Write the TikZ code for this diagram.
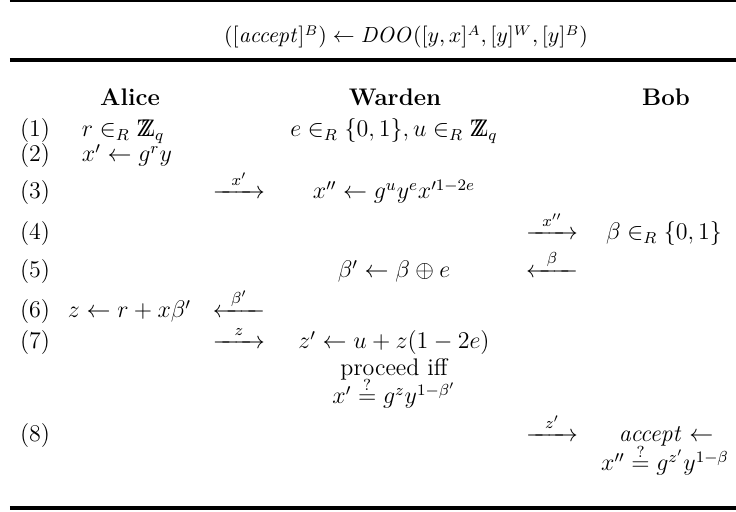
\documentclass[tikz,border=0pt]{standalone}
\usepackage{amsmath,amssymb}
\newcommand{\rarrow}[1]{\mathrel{\overset{#1}{\hbox to 26pt{\rightarrowfill}}}}
\newcommand{\larrow}[1]{\mathrel{\overset{#1}{\hbox to 26pt{\leftarrowfill}}}}
\newcommand{\qeq}{\stackrel{?}{=}}
\newcommand{\ZZset}{\mathrm{Z\mkern-7.5mu Z}}
\begin{document}
\begin{tikzpicture}[x=0.5pt,y=-0.5pt,
  every node/.style={inner sep=0pt,outer sep=0pt},
  cell/.style={anchor=base,font=\fontsize{12}{14.4}\selectfont},
  lcell/.style={anchor=base west,font=\fontsize{12}{14.4}\selectfont},
  rulethin/.style={line width=0.6pt},
  rulethick/.style={line width=1.8pt}]
\useasboundingbox (0,0) rectangle (736,512);
% rules
\draw[rulethin] (10,1) -- (736,1);
\draw[rulethick] (10,60) -- (736,60);
\draw[rulethick] (10,508) -- (736,508);
% heading
\node[anchor=base,font=\fontsize{10.6}{12.7}\selectfont] (head) at (406,43) {$([\mathit{accept}]^B)\leftarrow \mathit{DOO}([y,x]^A,[y]^W,[y]^B)$};
% column headers
\node[cell] (alice) at (130,106) {\textbf{Alice}};
\node[cell] (warden) at (395,106) {\textbf{Warden}};
\node[cell] (bob) at (666,106) {\textbf{Bob}};
% row numbers
\node[lcell] (n1) at (20,137) {(1)};
\node[lcell] (n2) at (20,162) {(2)};
\node[lcell] (n3) at (20,199) {(3)};
\node[lcell] (n4) at (20,240) {(4)};
\node[lcell] (n5) at (20,278) {(5)};
\node[lcell] (n6) at (20,318) {(6)};
\node[lcell] (n7) at (20,349) {(7)};
\node[lcell] (n8) at (20,442) {(8)};
% Alice
\node[lcell] (a1) at (82,137) {$r\in_R \ZZset_q$};
\node[lcell] (a2) at (82,162) {$x'\leftarrow g^r y$};
\node[lcell] (a6) at (68,318) {$z\leftarrow r+x\beta'$};
% arrows Alice-Warden
\node[cell] (m3) at (239,199) {$\rarrow{x'}$};
\node[cell] (m6) at (239,318) {$\larrow{\beta'}$};
\node[cell] (m7) at (239,349) {$\rarrow{z}$};
% Warden
\node[cell] (w1) at (394,137) {$e\in_R\{0,1\}, u\in_R \ZZset_q$};
\node[cell] (w3) at (394,199) {$x''\leftarrow g^u y^e x'^{1-2e}$};
\node[cell] (w5) at (394,278) {$\beta'\leftarrow \beta\oplus e$};
\node[cell] (w7) at (394,349) {$z'\leftarrow u+z(1-2e)$};
\node[cell] (w7b) at (394,376) {proceed iff};
\node[cell] (w7c) at (394,404) {$x'\qeq g^z y^{1-\beta'}$};
% arrows Warden-Bob
\node[cell] (k4) at (552,240) {$\rarrow{x''}$};
\node[cell] (k5) at (552,278) {$\larrow{\beta}$};
\node[cell] (k8) at (552,442) {$\rarrow{z'}$};
% Bob
\node[cell] (b4) at (664,240) {$\beta\in_R\{0,1\}$};
\node[cell] (b8) at (666,442) {$\mathit{accept}\leftarrow$};
\node[cell] (b8b) at (665,471) {$x''\qeq g^{z'} y^{1-\beta}$};
\end{tikzpicture}
\end{document}
